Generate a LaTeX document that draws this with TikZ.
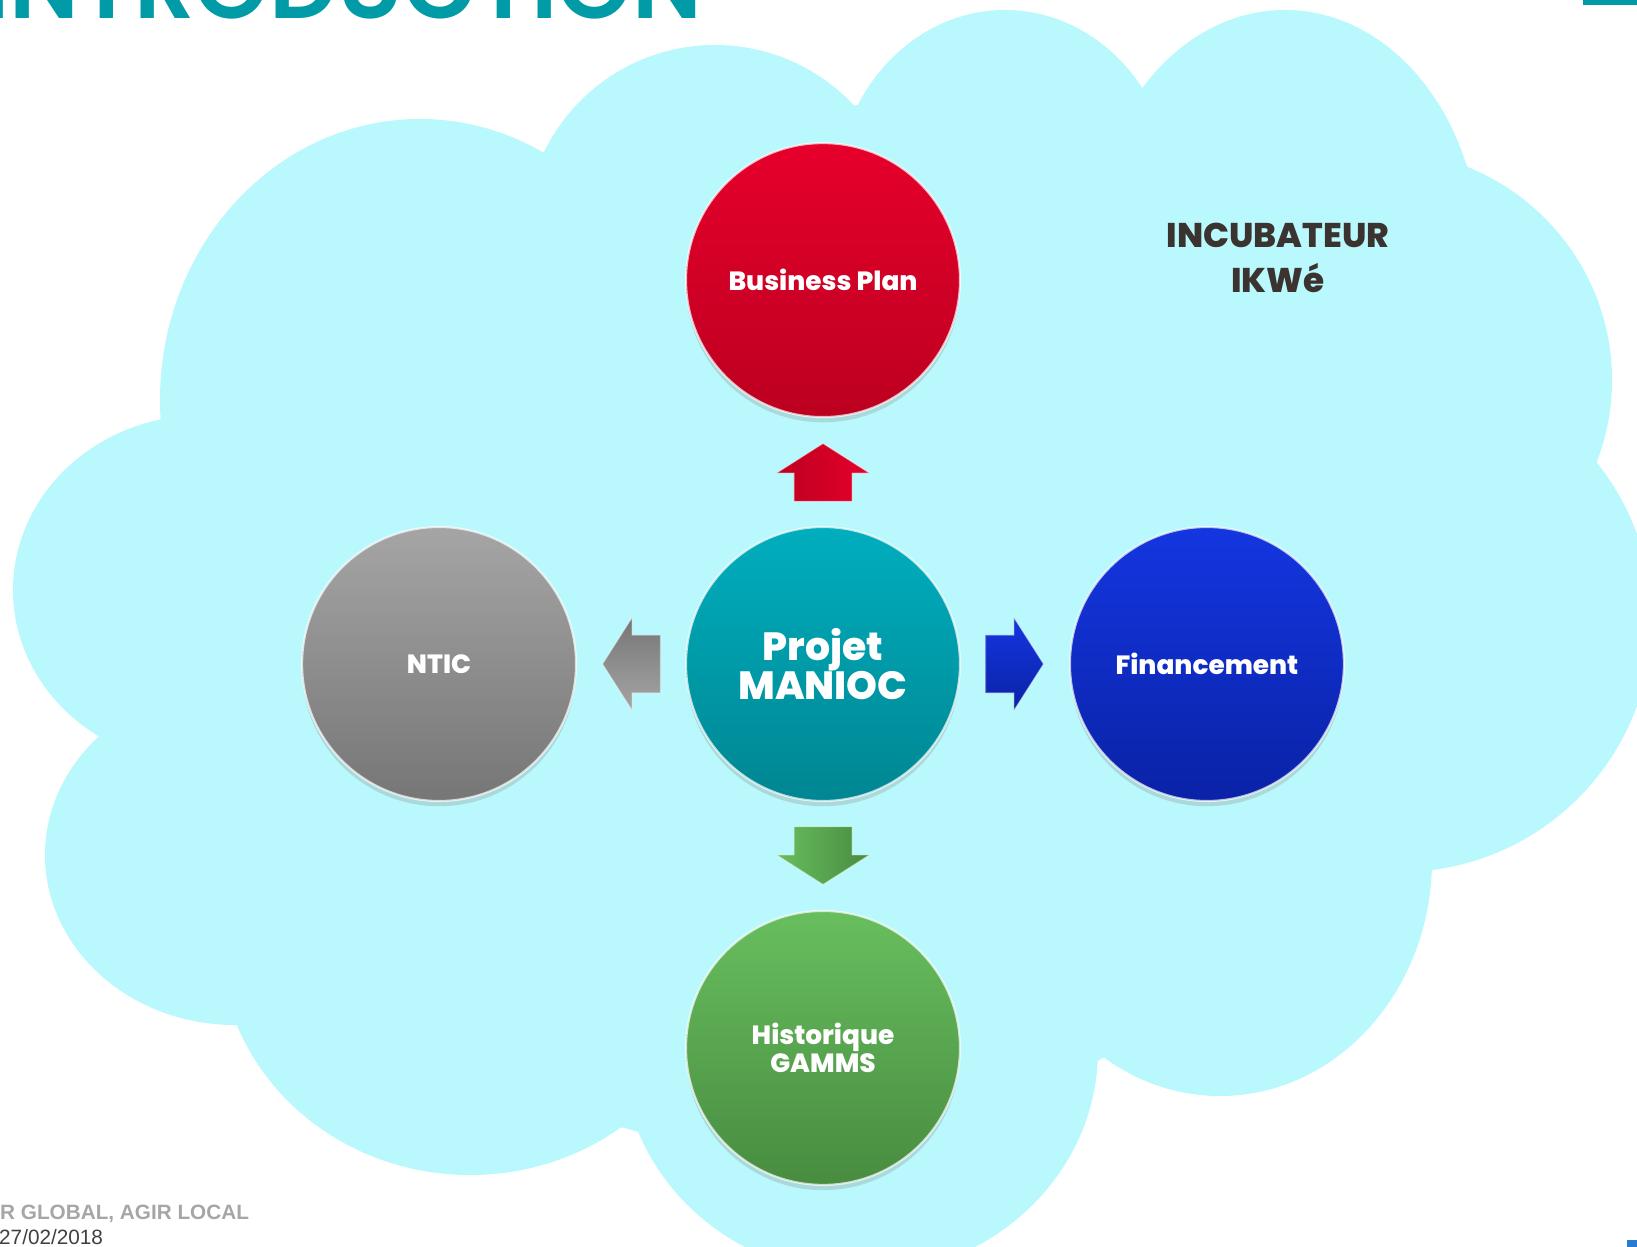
\documentclass[tikz,border=0pt]{standalone}
\usepackage{fontspec}
\setmainfont{Poppins}
\newfontfamily\arialfont{Liberation Sans}
\newfontfamily\titrefont{Poppins SemiBold}
\newfontfamily\grasfont{Poppins ExtraBold}
\usetikzlibrary{positioning}
\usetikzlibrary{shapes.arrows}
\usetikzlibrary{shadows}

\definecolor{nuage}{RGB}{185,248,252}
\definecolor{titre}{RGB}{0,155,166}
\definecolor{tealH}{RGB}{0,174,190}
\definecolor{tealB}{RGB}{0,134,146}
\definecolor{rougeH}{RGB}{230,0,43}
\definecolor{rougeB}{RGB}{188,0,32}
\definecolor{grisH}{RGB}{165,165,165}
\definecolor{grisB}{RGB}{118,118,118}
\definecolor{bleuH}{RGB}{20,54,224}
\definecolor{bleuB}{RGB}{10,34,166}
\definecolor{vertH}{RGB}{104,190,94}
\definecolor{vertB}{RGB}{72,140,64}
\definecolor{incub}{RGB}{59,51,48}
\definecolor{pied}{RGB}{166,166,166}
\definecolor{date}{RGB}{64,64,64}
\definecolor{coin}{RGB}{43,122,210}

\begin{document}
\begin{tikzpicture}[x=0.02cm, y=-0.02cm, node distance=7.68cm]
            \tikzstyle{bulle}=[circle, minimum size=5.48cm, inner sep=0pt, text=white, align=center,
                font=\grasfont\fontsize{15}{14.5}\selectfont, draw=white, draw opacity=0.7, line width=1.2pt,
                drop shadow={shadow xshift=0pt, shadow yshift=-3pt, opacity=0.25}]
            \tikzstyle{fleche}=[single arrow, pos=0.41, sloped, allow upside down, minimum height=1.16cm,
                minimum width=1.84cm, single arrow head extend=0.35cm, single arrow tip angle=115,
                inner xsep=0pt, inner ysep=0.57cm, draw=white, draw opacity=0.45, line width=0.6pt]

            \useasboundingbox (0,0) rectangle (1637,1247);

            % nuage
            \fill[nuage] (161,421) -- (544,155) -- (864,104) -- (1142,90) -- (1463,165) -- (1596,448)
                -- (1428,872) -- (1094,1063) -- (639,1132) -- (232,1023) -- (100,738) -- cycle;
            \foreach \cx/\cy/\rx/\ry in {203/590/190/175, 420/400/260/281, 715/235/190/190, 1005/200/170/190,
                    1285/255/195/245, 1380/380/232/230, 1400/620/252/252, 1220/860/212/236,
                    860/1050/238/225, 470/940/250/235, 235/855/190/170}
                \fill[nuage] (\cx,\cy) ellipse [x radius=\rx, y radius=\ry];

            \node[anchor=base east, font=\titrefont\fontsize{54}{54}\selectfont, text=titre] (titre) at (708,19) {INTRODUCTION};
            \fill[titre] (1583,0) rectangle (1637,5);
            \fill[coin] (1627,1240) rectangle (1637,1247);

            \node[bulle, top color=tealH, bottom color=tealB, font=\grasfont\fontsize{22.4}{22.2}\selectfont] (projet) at (823,664) {Projet\\MANIOC};
            \node[bulle, top color=rougeH, bottom color=rougeB] (bplan) [above of=projet] {Business Plan};
            \node[bulle, top color=grisH, bottom color=grisB] (ntic) [left of=projet] {NTIC};
            \node[bulle, top color=bleuH, bottom color=bleuB] (finance) [right of=projet] {Financement};
            \node[bulle, top color=vertH, bottom color=vertB] (histo) [below of=projet] {Historique\\GAMMS};

            \path (projet) -- (bplan) node[fleche, left color=rougeB, right color=rougeH] (flBP) {}
                (projet) -- (ntic) node[fleche, top color=grisB, bottom color=grisH] (flNT) {}
                (projet) -- (finance) node[fleche, top color=bleuH, bottom color=bleuB] (flFI) {}
                (projet) -- (histo) node[fleche, left color=vertH, right color=vertB] (flHI) {};

            \node[font=\grasfont\fontsize{19.5}{26}\selectfont, text=incub, align=center] (incub) at (1278,258) {INCUBATEUR\\IKWé};

            \node[anchor=base west, font=\arialfont\bfseries\fontsize{11.8}{12}\selectfont, text=pied] (devise) at (-6,1219) {R GLOBAL, AGIR LOCAL};
            \node[anchor=base west, font=\arialfont\fontsize{11.8}{12}\selectfont, text=date] (jour) at (-7,1244) {27/02/2018};
        \end{tikzpicture}
\end{document}
